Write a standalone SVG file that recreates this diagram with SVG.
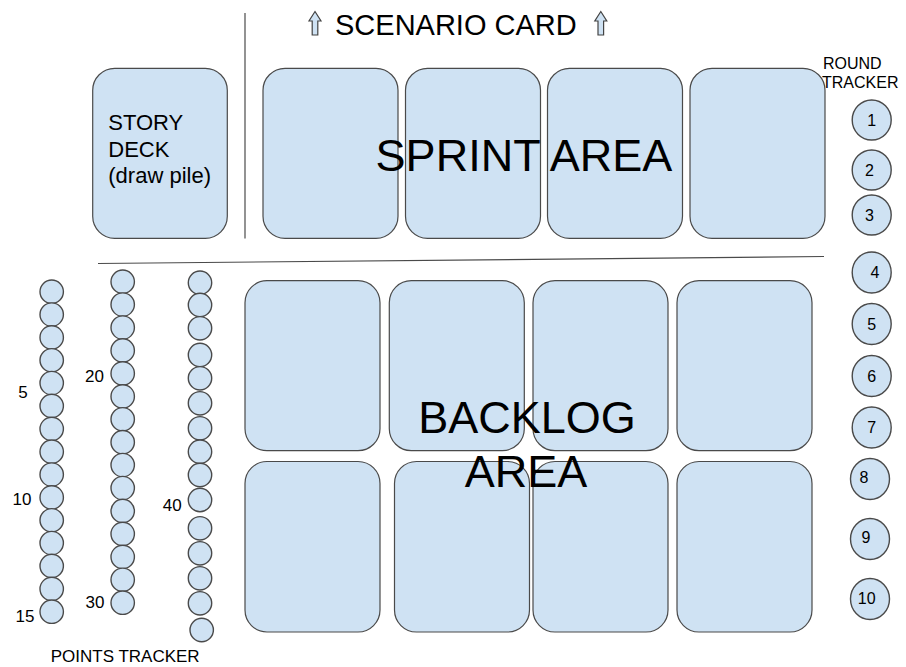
<svg xmlns="http://www.w3.org/2000/svg" width="906" height="667" viewBox="0 0 906 667">
<style>
  .card{fill:#cfe2f3;stroke:#4a4a4a;stroke-width:1.2}
  .pt{fill:#cfe2f3;stroke:#4a4a4a;stroke-width:1.4}
  .rt{fill:#cfe2f3;stroke:#4a4a4a;stroke-width:1.4}
  .arr{fill:#cfe2f3;stroke:#434343;stroke-width:1.2}
  text{font-family:"Liberation Sans",Arial,sans-serif;fill:#000}
  .big{font-size:45px;text-anchor:middle}
  .lab{font-size:17px}
  .rlab{font-size:16px}
  .num{font-size:16px;text-anchor:middle}
  .sep{stroke:#4a4a4a;stroke-width:1.2;fill:none}
</style>
<rect width="906" height="667" fill="#ffffff"/>

<g id="connectors">
  <line class="sep" x1="245" y1="13" x2="245" y2="238.5"/>
  <line class="sep" x1="98" y1="263.5" x2="824" y2="256.5"/>
</g>

<g id="scenario-card">
  <path class="arr" d="M315,11.5 L321,21 L317.8,21 L317.8,35 L312.2,35 L312.2,21 L309,21 Z"/>
  <text x="335" y="35" font-size="29">SCENARIO CARD</text>
  <path class="arr" d="M600.8,11.5 L606.8,21 L603.6,21 L603.6,35 L598,35 L598,21 L594.8,21 Z"/>
</g>

<g id="story-deck">
  <rect class="card" x="92.7" y="68.3" width="134.6" height="170" rx="22"/>
  <text x="108.3" y="130" font-size="22">STORY</text>
  <text x="108.3" y="156.7" font-size="22">DECK</text>
  <text x="108.3" y="183.3" font-size="22">(draw pile)</text>
</g>

<g id="sprint-area">
  <rect class="card" x="263" y="68.3" width="135" height="170" rx="22"/>
  <rect class="card" x="405.5" y="68.3" width="135" height="170" rx="22"/>
  <rect class="card" x="547.5" y="68.3" width="135" height="170" rx="22"/>
  <rect class="card" x="690" y="68.3" width="135" height="170" rx="22"/>
  <text class="big" x="524" y="171">SPRINT AREA</text>
</g>

<g id="backlog-area">
  <rect class="card" x="245" y="280.7" width="135" height="170" rx="22"/>
  <rect class="card" x="389.3" y="280.7" width="135" height="170" rx="22"/>
  <rect class="card" x="533" y="280.7" width="135" height="170" rx="22"/>
  <rect class="card" x="677" y="280.7" width="135" height="170" rx="22"/>
  <rect class="card" x="245" y="461.5" width="135" height="170.5" rx="22"/>
  <rect class="card" x="394.5" y="461.5" width="135" height="170.5" rx="22"/>
  <rect class="card" x="533" y="461.5" width="135" height="170.5" rx="22"/>
  <rect class="card" x="677" y="461.5" width="135" height="170.5" rx="22"/>
  <text class="big" x="527" y="433">BACKLOG</text>
  <text class="big" x="526" y="487">AREA</text>
</g>

<g id="round-tracker">
  <text class="rlab" x="823" y="69">ROUND</text>
  <text class="rlab" x="822" y="88">TRACKER</text>
  <ellipse class="rt" cx="871.7" cy="120" rx="19.5" ry="20"/>
  <ellipse class="rt" cx="871.7" cy="170" rx="19.5" ry="20"/>
  <ellipse class="rt" cx="871.7" cy="215" rx="19.5" ry="20"/>
  <ellipse class="rt" cx="871.7" cy="272.5" rx="19.5" ry="20.5"/>
  <ellipse class="rt" cx="871.7" cy="324" rx="19.5" ry="20.5"/>
  <ellipse class="rt" cx="871.7" cy="376" rx="19.5" ry="20.5"/>
  <ellipse class="rt" cx="871.7" cy="427.5" rx="19.5" ry="20.5"/>
  <ellipse class="rt" cx="870" cy="479" rx="19.5" ry="20.5"/>
  <ellipse class="rt" cx="870" cy="539" rx="19.5" ry="20.5"/>
  <ellipse class="rt" cx="870" cy="599" rx="19.5" ry="20.5"/>
  <text class="num" x="871.7" y="125.5">1</text>
  <text class="num" x="869.5" y="175.5">2</text>
  <text class="num" x="869.5" y="220.5">3</text>
  <text class="num" x="875" y="278">4</text>
  <text class="num" x="871.7" y="329.5">5</text>
  <text class="num" x="871.7" y="381.5">6</text>
  <text class="num" x="871.7" y="433">7</text>
  <text class="num" x="864" y="483">8</text>
  <text class="num" x="866" y="543">9</text>
  <text class="num" x="866.7" y="604">10</text>
</g>

<g id="points-tracker">
  <g id="points-col-1">
    <circle class="pt" cx="51.7" cy="291.7" r="11.7"/>
    <circle class="pt" cx="51.7" cy="314.6" r="11.7"/>
    <circle class="pt" cx="51.7" cy="337.4" r="11.7"/>
    <circle class="pt" cx="51.7" cy="360.3" r="11.7"/>
    <circle class="pt" cx="51.7" cy="383.1" r="11.7"/>
    <circle class="pt" cx="51.7" cy="406.0" r="11.7"/>
    <circle class="pt" cx="51.7" cy="428.9" r="11.7"/>
    <circle class="pt" cx="51.7" cy="451.7" r="11.7"/>
    <circle class="pt" cx="51.7" cy="474.6" r="11.7"/>
    <circle class="pt" cx="51.7" cy="497.4" r="11.7"/>
    <circle class="pt" cx="51.7" cy="520.3" r="11.7"/>
    <circle class="pt" cx="51.7" cy="543.1" r="11.7"/>
    <circle class="pt" cx="51.7" cy="566.0" r="11.7"/>
    <circle class="pt" cx="51.7" cy="588.9" r="11.7"/>
    <circle class="pt" cx="51.7" cy="611.7" r="11.7"/>
  </g>
  <g id="points-col-2">
    <circle class="pt" cx="122.7" cy="281.7" r="11.7"/>
    <circle class="pt" cx="122.7" cy="304.6" r="11.7"/>
    <circle class="pt" cx="122.7" cy="327.6" r="11.7"/>
    <circle class="pt" cx="122.7" cy="350.5" r="11.7"/>
    <circle class="pt" cx="122.7" cy="373.4" r="11.7"/>
    <circle class="pt" cx="122.7" cy="396.4" r="11.7"/>
    <circle class="pt" cx="122.7" cy="419.3" r="11.7"/>
    <circle class="pt" cx="122.7" cy="442.2" r="11.7"/>
    <circle class="pt" cx="122.7" cy="465.1" r="11.7"/>
    <circle class="pt" cx="122.7" cy="488.1" r="11.7"/>
    <circle class="pt" cx="122.7" cy="511.0" r="11.7"/>
    <circle class="pt" cx="122.7" cy="533.9" r="11.7"/>
    <circle class="pt" cx="122.7" cy="556.9" r="11.7"/>
    <circle class="pt" cx="122.7" cy="579.8" r="11.7"/>
    <circle class="pt" cx="122.7" cy="602.7" r="11.7"/>
  </g>
  <g id="points-col-3">
    <circle class="pt" cx="200" cy="282.7" r="11.7"/>
    <circle class="pt" cx="200" cy="305" r="11.7"/>
    <circle class="pt" cx="200" cy="328.3" r="11.7"/>
    <circle class="pt" cx="200" cy="355" r="11.7"/>
    <circle class="pt" cx="200" cy="378.3" r="11.7"/>
    <circle class="pt" cx="200" cy="403.3" r="11.7"/>
    <circle class="pt" cx="200" cy="428.3" r="11.7"/>
    <circle class="pt" cx="200" cy="451.7" r="11.7"/>
    <circle class="pt" cx="200" cy="475" r="11.7"/>
    <circle class="pt" cx="200" cy="500" r="11.7"/>
    <circle class="pt" cx="200" cy="528.3" r="11.7"/>
    <circle class="pt" cx="200" cy="553.3" r="11.7"/>
    <circle class="pt" cx="200" cy="578.3" r="11.7"/>
    <circle class="pt" cx="200" cy="603.3" r="11.7"/>
    <circle class="pt" cx="201.7" cy="630" r="11.7"/>
  </g>
  <text class="lab" x="18.3" y="398.3">5</text>
  <text class="lab" x="12.5" y="505">10</text>
  <text class="lab" x="15.5" y="621.7">15</text>
  <text class="lab" x="85" y="382.3">20</text>
  <text class="lab" x="85.5" y="608.3">30</text>
  <text class="lab" x="162.7" y="510.7">40</text>
  <text class="lab" x="50.7" y="662">POINTS TRACKER</text>
</g>
</svg>
